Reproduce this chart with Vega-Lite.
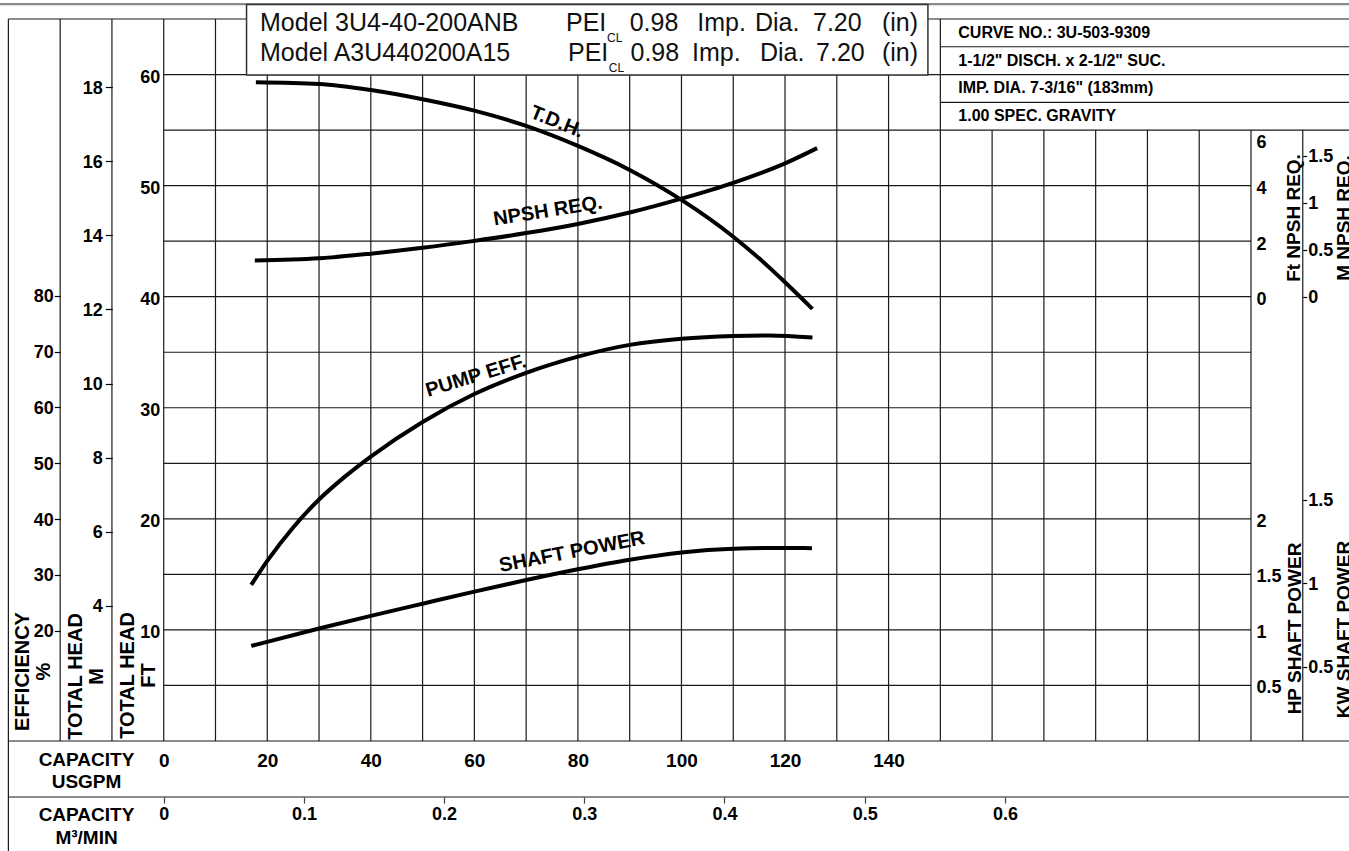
{
  "$schema": "https://vega.github.io/schema/vega-lite/v6.json",
  "width": 1349,
  "height": 741,
  "autosize": {"type": "none"},
  "padding": {"left": 0, "top": 0, "right": 0, "bottom": 110},
  "background": "white",
  "config": {
    "view": {"stroke": null},
    "font": "Liberation Sans",
    "axis": {"labelFont": "Liberation Sans", "titleFont": "Liberation Sans", "labelColor": "#000", "titleColor": "#000", "grid": false, "labelFlush": false, "labelOverlap": false, "labelBound": false, "labelFontWeight": "bold", "titleFontWeight": "bold"}
  },
  "resolve": {"scale": {"x": "independent", "y": "independent"}},
  "layer": [
    {
      "data": {"values": [
        {"gpm": -30, "ft1": -9.9, "ft2": 65}, {"gpm": -20, "ft1": 0, "ft2": 65}, {"gpm": -10, "ft1": 0, "ft2": 65},
        {"gpm": 0, "ft1": 0, "ft2": 65}, {"gpm": 10, "ft1": 0, "ft2": 65}, {"gpm": 20, "ft1": 0, "ft2": 65}, {"gpm": 30, "ft1": 0, "ft2": 65},
        {"gpm": 40, "ft1": 0, "ft2": 65}, {"gpm": 50, "ft1": 0, "ft2": 65}, {"gpm": 60, "ft1": 0, "ft2": 65}, {"gpm": 70, "ft1": 0, "ft2": 65},
        {"gpm": 80, "ft1": 0, "ft2": 65}, {"gpm": 90, "ft1": 0, "ft2": 65}, {"gpm": 100, "ft1": 0, "ft2": 65}, {"gpm": 110, "ft1": 0, "ft2": 65},
        {"gpm": 120, "ft1": 0, "ft2": 65}, {"gpm": 130, "ft1": 0, "ft2": 65}, {"gpm": 140, "ft1": 0, "ft2": 65}, {"gpm": 150, "ft1": 0, "ft2": 65},
        {"gpm": 160, "ft1": 0, "ft2": 55}, {"gpm": 170, "ft1": 0, "ft2": 55}, {"gpm": 180, "ft1": 0, "ft2": 55}, {"gpm": 190, "ft1": 0, "ft2": 55},
        {"gpm": 200, "ft1": 0, "ft2": 55}, {"gpm": 210, "ft1": 0, "ft2": 55}, {"gpm": 220, "ft1": 0, "ft2": 55}
      ]},
      "mark": {"type": "rule", "color": "#1a1a1a", "strokeWidth": 1.2},
      "encoding": {
        "x": {"field": "gpm", "type": "quantitative", "scale": {"domain": [-31.62, 228.93], "nice": false, "zero": false}, "axis": null},
        "y": {"field": "ft1", "type": "quantitative", "scale": {"domain": [0, 66.71], "nice": false, "zero": false}, "axis": null},
        "y2": {"field": "ft2"}
      }
    },
    {
      "data": {"values": [
        {"ft": 65, "gpm1": -30, "gpm2": 228.93}, {"ft": 60, "gpm1": 0, "gpm2": 228.93}, {"ft": 55, "gpm1": 0, "gpm2": 228.93},
        {"ft": 50, "gpm1": 0, "gpm2": 210}, {"ft": 45, "gpm1": 0, "gpm2": 210}, {"ft": 40, "gpm1": 0, "gpm2": 210}, {"ft": 35, "gpm1": 0, "gpm2": 210},
        {"ft": 30, "gpm1": 0, "gpm2": 210}, {"ft": 25, "gpm1": 0, "gpm2": 210}, {"ft": 20, "gpm1": 0, "gpm2": 210}, {"ft": 15, "gpm1": 0, "gpm2": 210},
        {"ft": 10, "gpm1": 0, "gpm2": 210}, {"ft": 5, "gpm1": 0, "gpm2": 210}, {"ft": 0, "gpm1": -30, "gpm2": 228.93},
        {"ft": 62.5, "gpm1": 150, "gpm2": 228.93}, {"ft": 57.5, "gpm1": 150, "gpm2": 228.93}, {"ft": -5.04, "gpm1": -30, "gpm2": 228.93}
      ]},
      "mark": {"type": "rule", "color": "#1a1a1a", "strokeWidth": 1.2},
      "encoding": {
        "y": {"field": "ft", "type": "quantitative", "scale": {"domain": [0, 66.71], "nice": false, "zero": false}, "axis": null},
        "x": {"field": "gpm1", "type": "quantitative", "scale": {"domain": [-31.62, 228.93], "nice": false, "zero": false}, "axis": null},
        "x2": {"field": "gpm2"}
      }
    },
    {
      "data": {"values": [{"ft": 66.34, "gpm1": -31.62, "gpm2": 228.93}]},
      "mark": {"type": "rule", "color": "#8a8a8a", "strokeWidth": 2.2},
      "encoding": {
        "y": {"field": "ft", "type": "quantitative", "scale": {"domain": [0, 66.71], "nice": false, "zero": false}, "axis": null},
        "x": {"field": "gpm1", "type": "quantitative", "scale": {"domain": [-31.62, 228.93], "nice": false, "zero": false}, "axis": null},
        "x2": {"field": "gpm2"}
      }
    },
    {
      "data": {"values": [{"gpm1": 16.0, "gpm2": 147.6, "ft1": 59.96, "ft2": 66.3}]},
      "mark": {"type": "rect", "fill": "white", "stroke": "#333", "strokeWidth": 1.5},
      "encoding": {
        "x": {"field": "gpm1", "type": "quantitative", "scale": {"domain": [-31.62, 228.93], "nice": false, "zero": false}, "axis": null},
        "x2": {"field": "gpm2"},
        "y": {"field": "ft1", "type": "quantitative", "scale": {"domain": [0, 66.71], "nice": false, "zero": false}, "axis": null},
        "y2": {"field": "ft2"}
      }
    },
    {
      "data": {"values": [
        {"text": "Model 3U4-40-200ANB", "gpm": 18.6, "ft": 64.61},
        {"text": "PEI", "gpm": 77.7, "ft": 64.61},
        {"text": "0.98", "gpm": 90.0, "ft": 64.61},
        {"text": "Imp.", "gpm": 103.06, "ft": 64.61},
        {"text": "Dia.", "gpm": 114.2, "ft": 64.61},
        {"text": "7.20", "gpm": 125.4, "ft": 64.61},
        {"text": "(in)", "gpm": 138.73, "ft": 64.61},
        {"text": "Model A3U440200A15", "gpm": 18.6, "ft": 61.9},
        {"text": "PEI", "gpm": 78.09, "ft": 61.9},
        {"text": "0.98", "gpm": 90.16, "ft": 61.9},
        {"text": "Imp.", "gpm": 102.03, "ft": 61.9},
        {"text": "Dia.", "gpm": 115.17, "ft": 61.9},
        {"text": "7.20", "gpm": 126.0, "ft": 61.9},
        {"text": "(in)", "gpm": 138.73, "ft": 61.9}
      ]},
      "mark": {"type": "text", "align": "left", "baseline": "middle", "fontSize": 25, "font": "Liberation Sans", "color": "#111"},
      "encoding": {
        "x": {"field": "gpm", "type": "quantitative", "scale": {"domain": [-31.62, 228.93], "nice": false, "zero": false}, "axis": null},
        "y": {"field": "ft", "type": "quantitative", "scale": {"domain": [0, 66.71], "nice": false, "zero": false}, "axis": null},
        "text": {"field": "text"}
      }
    },
    {
      "data": {"values": [
        {"text": "CL", "gpm": 85.62, "ft": 63.33},
        {"text": "CL", "gpm": 85.95, "ft": 60.63}
      ]},
      "mark": {"type": "text", "align": "left", "baseline": "middle", "fontSize": 12, "font": "Liberation Sans", "color": "#111"},
      "encoding": {
        "x": {"field": "gpm", "type": "quantitative", "scale": {"domain": [-31.62, 228.93], "nice": false, "zero": false}, "axis": null},
        "y": {"field": "ft", "type": "quantitative", "scale": {"domain": [0, 66.71], "nice": false, "zero": false}, "axis": null},
        "text": {"field": "text"}
      }
    },
    {
      "data": {"values": [
        {"text": "CURVE NO.: 3U-503-9309", "gpm": 153.47, "ft": 63.74},
        {"text": "1-1/2\" DISCH. x 2-1/2\" SUC.", "gpm": 153.47, "ft": 61.25},
        {"text": "IMP. DIA. 7-3/16\" (183mm)", "gpm": 153.47, "ft": 58.75},
        {"text": "1.00 SPEC. GRAVITY", "gpm": 153.47, "ft": 56.25}
      ]},
      "mark": {"type": "text", "align": "left", "baseline": "middle", "fontSize": 16, "fontWeight": "bold", "font": "Liberation Sans", "color": "#000"},
      "encoding": {
        "x": {"field": "gpm", "type": "quantitative", "scale": {"domain": [-31.62, 228.93], "nice": false, "zero": false}, "axis": null},
        "y": {"field": "ft", "type": "quantitative", "scale": {"domain": [0, 66.71], "nice": false, "zero": false}, "axis": null},
        "text": {"field": "text"}
      }
    },
    {
      "data": {"values": [{"text": "T.D.H.", "gpm": 75.96, "ft": 55.72}]},
      "mark": {"type": "text", "align": "center", "baseline": "middle", "fontSize": 20, "fontWeight": "bold", "angle": 22, "color": "#000"},
      "encoding": {
        "x": {"field": "gpm", "type": "quantitative", "scale": {"domain": [-31.62, 228.93], "nice": false, "zero": false}, "axis": null},
        "y": {"field": "ft", "type": "quantitative", "scale": {"domain": [0, 66.71], "nice": false, "zero": false}, "axis": null},
        "text": {"field": "text"}
      }
    },
    {
      "data": {"values": [{"text": "NPSH REQ.", "gpm": 74.22, "ft": 47.71}]},
      "mark": {"type": "text", "align": "center", "baseline": "middle", "fontSize": 20, "fontWeight": "bold", "angle": 351, "color": "#000"},
      "encoding": {
        "x": {"field": "gpm", "type": "quantitative", "scale": {"domain": [-31.62, 228.93], "nice": false, "zero": false}, "axis": null},
        "y": {"field": "ft", "type": "quantitative", "scale": {"domain": [0, 66.71], "nice": false, "zero": false}, "axis": null},
        "text": {"field": "text"}
      }
    },
    {
      "data": {"values": [{"text": "PUMP EFF.", "gpm": 60.32, "ft": 32.86}]},
      "mark": {"type": "text", "align": "center", "baseline": "middle", "fontSize": 20, "fontWeight": "bold", "angle": 343, "color": "#000"},
      "encoding": {
        "x": {"field": "gpm", "type": "quantitative", "scale": {"domain": [-31.62, 228.93], "nice": false, "zero": false}, "axis": null},
        "y": {"field": "ft", "type": "quantitative", "scale": {"domain": [0, 66.71], "nice": false, "zero": false}, "axis": null},
        "text": {"field": "text"}
      }
    },
    {
      "data": {"values": [{"text": "SHAFT POWER", "gpm": 78.86, "ft": 17.01}]},
      "mark": {"type": "text", "align": "center", "baseline": "middle", "fontSize": 20, "fontWeight": "bold", "angle": 349, "color": "#000"},
      "encoding": {
        "x": {"field": "gpm", "type": "quantitative", "scale": {"domain": [-31.62, 228.93], "nice": false, "zero": false}, "axis": null},
        "y": {"field": "ft", "type": "quantitative", "scale": {"domain": [0, 66.71], "nice": false, "zero": false}, "axis": null},
        "text": {"field": "text"}
      }
    },
    {
      "data": {"values": [
        {"gpm": 17.8, "ft": 59.3}, {"gpm": 30, "ft": 59.15}, {"gpm": 40, "ft": 58.61},
        {"gpm": 50, "ft": 57.78}, {"gpm": 60, "ft": 56.75}, {"gpm": 70, "ft": 55.37}, {"gpm": 80, "ft": 53.57},
        {"gpm": 90, "ft": 51.41}, {"gpm": 100, "ft": 48.71}, {"gpm": 110, "ft": 45.4}, {"gpm": 115, "ft": 43.45}, {"gpm": 120, "ft": 41.3}, {"gpm": 125.3, "ft": 38.9}
      ]},
      "mark": {"type": "line", "color": "#000", "strokeWidth": 4, "interpolate": "monotone", "strokeCap": "butt"},
      "encoding": {
        "x": {"field": "gpm", "type": "quantitative", "scale": {"domain": [-31.62, 228.93], "nice": false, "zero": false},
          "axis": {"orient": "bottom", "values": [0, 20, 40, 60, 80, 100, 120, 140], "ticks": false, "tickSize": 0, "domain": false, "labelPadding": 10, "labelFontSize": 19,
            "title": ["CAPACITY", "USGPM"], "titleX": 86, "titleY": 9.5, "titleAlign": "center", "titleBaseline": "top", "titleAngle": 0, "titleFontSize": 19, "titleLineHeight": 22}},
        "y": {"field": "ft", "type": "quantitative", "scale": {"domain": [0, 66.71], "nice": false, "zero": false},
          "axis": {"orient": "left", "offset": -163.7, "values": [10, 20, 30, 40, 50, 60], "ticks": false, "tickSize": 0, "domain": false, "labelPadding": 4, "labelFontSize": 18, "labelOffset": 3,
            "title": ["TOTAL HEAD", "FT"], "titleAngle": 270, "titleX": -36.2, "titleY": 675, "titleAlign": "center", "titleBaseline": "middle", "titleFontSize": 20, "titleLineHeight": 21}}
      }
    },
    {
      "data": {"values": [
        {"gpm": 17.6, "npsh": 1.3}, {"gpm": 30, "npsh": 1.38}, {"gpm": 40, "npsh": 1.55},
        {"gpm": 50, "npsh": 1.76}, {"gpm": 60, "npsh": 2.01}, {"gpm": 70, "npsh": 2.29}, {"gpm": 80, "npsh": 2.62},
        {"gpm": 90, "npsh": 3.03}, {"gpm": 100, "npsh": 3.53}, {"gpm": 110, "npsh": 4.1}, {"gpm": 120, "npsh": 4.8}, {"gpm": 126.2, "npsh": 5.35}
      ]},
      "mark": {"type": "line", "color": "#000", "strokeWidth": 4, "interpolate": "monotone", "strokeCap": "butt"},
      "encoding": {
        "x": {"field": "gpm", "type": "quantitative", "scale": {"domain": [-31.62, 228.93], "nice": false, "zero": false}, "axis": null},
        "y": {"field": "npsh", "type": "quantitative", "scale": {"domain": [-16, 10.684], "nice": false, "zero": false},
          "axis": {"orient": "right", "offset": -98, "values": [0, 2, 4, 6], "ticks": false, "tickSize": 0, "domain": false, "labelPadding": 5, "labelFontSize": 18,
            "labelOffset": {"condition": {"test": "datum.value === 6", "value": 12}, "value": 3},
            "title": "Ft NPSH REQ.", "titleAngle": 270, "titleX": 42.5, "titleY": 217.5, "titleAlign": "center", "titleBaseline": "middle", "titleFontSize": 19}}
      }
    },
    {
      "data": {"values": [
        {"gpm": 16.9, "eff": 28.2}, {"gpm": 20, "eff": 32.5}, {"gpm": 25, "eff": 38.5}, {"gpm": 30, "eff": 43.5}, {"gpm": 35, "eff": 47.6},
        {"gpm": 40, "eff": 51.2}, {"gpm": 50, "eff": 57.4}, {"gpm": 60, "eff": 62.4}, {"gpm": 70, "eff": 66.2}, {"gpm": 80, "eff": 69.1},
        {"gpm": 90, "eff": 71.2}, {"gpm": 100, "eff": 72.3}, {"gpm": 110, "eff": 72.8}, {"gpm": 117, "eff": 72.9}, {"gpm": 125.3, "eff": 72.5}
      ]},
      "mark": {"type": "line", "color": "#000", "strokeWidth": 4, "interpolate": "monotone", "strokeCap": "butt"},
      "encoding": {
        "x": {"field": "gpm", "type": "quantitative", "scale": {"domain": [-31.62, 228.93], "nice": false, "zero": false}, "axis": null},
        "y": {"field": "eff", "type": "quantitative", "scale": {"domain": [0.25, 132.97], "nice": false, "zero": false},
          "axis": {"orient": "left", "offset": -60.3, "values": [20, 30, 40, 50, 60, 70, 80], "ticks": true, "tickSize": 6, "tickWidth": 1.2, "tickColor": "#000", "domain": false, "labelPadding": 1, "labelFontSize": 18, "labelOffset": 1,
            "title": ["EFFICIENCY", "%"], "titleAngle": 270, "titleX": -37.5, "titleY": 671, "titleAlign": "center", "titleBaseline": "middle", "titleFontSize": 20, "titleLineHeight": 21}}
      }
    },
    {
      "data": {"values": [
        {"gpm": 16.9, "hp": 0.856}, {"gpm": 30, "hp": 1.013}, {"gpm": 40, "hp": 1.126},
        {"gpm": 50, "hp": 1.236}, {"gpm": 60, "hp": 1.345}, {"gpm": 70, "hp": 1.449}, {"gpm": 80, "hp": 1.546},
        {"gpm": 90, "hp": 1.632}, {"gpm": 100, "hp": 1.697}, {"gpm": 110, "hp": 1.73}, {"gpm": 120, "hp": 1.738}, {"gpm": 125.2, "hp": 1.736}
      ]},
      "mark": {"type": "line", "color": "#000", "strokeWidth": 4, "interpolate": "monotone", "strokeCap": "butt"},
      "encoding": {
        "x": {"field": "gpm", "type": "quantitative", "scale": {"domain": [-31.62, 228.93], "nice": false, "zero": false}, "axis": null},
        "y": {"field": "hp", "type": "quantitative", "scale": {"domain": [0, 6.671], "nice": false, "zero": false},
          "axis": {"orient": "right", "offset": -98, "values": [0.5, 1, 1.5, 2], "format": ".2~g", "ticks": false, "tickSize": 0, "domain": false, "labelPadding": 5, "labelFontSize": 18, "labelOffset": 2.5,
            "title": "HP SHAFT POWER", "titleAngle": 270, "titleX": 43.5, "titleY": 628, "titleAlign": "center", "titleBaseline": "middle", "titleFontSize": 19}}
      }
    },
    {
      "data": {"values": [{"m": 4}, {"m": 6}, {"m": 8}, {"m": 10}, {"m": 12}, {"m": 14}, {"m": 16}, {"m": 18}]},
      "mark": {"type": "point", "opacity": 0},
      "encoding": {
        "y": {"field": "m", "type": "quantitative", "scale": {"domain": [0.346, 20.357], "nice": false, "zero": false},
          "axis": {"orient": "left", "offset": -112.3, "values": [4, 6, 8, 10, 12, 14, 16, 18], "ticks": true, "tickSize": 7, "tickWidth": 1.2, "tickColor": "#000", "domain": false, "labelPadding": 3, "labelFontSize": 18, "labelOffset": 1,
            "title": ["TOTAL HEAD", "M"], "titleAngle": 270, "titleX": -36.8, "titleY": 676, "titleAlign": "center", "titleBaseline": "middle", "titleFontSize": 20, "titleLineHeight": 21}}
      }
    },
    {
      "data": {"values": [{"mnpsh": 0}, {"mnpsh": 0.5}, {"mnpsh": 1}, {"mnpsh": 1.5}]},
      "mark": {"type": "point", "opacity": 0},
      "encoding": {
        "y": {"field": "mnpsh", "type": "quantitative", "scale": {"domain": [-4.727, 3.156], "nice": false, "zero": false},
          "axis": {"orient": "right", "offset": -46.3, "values": [0, 0.5, 1, 1.5], "format": ".2~g", "ticks": true, "tickSize": 4, "tickWidth": 1.2, "tickColor": "#000", "domain": false, "labelPadding": 1, "labelFontSize": 18, "labelOffset": 1,
            "title": "M NPSH REQ.", "titleAngle": 270, "titleX": 41, "titleY": 217.5, "titleAlign": "center", "titleBaseline": "middle", "titleFontSize": 19}}
      }
    },
    {
      "data": {"values": [{"kw": 0.5}, {"kw": 1}, {"kw": 1.5}]},
      "mark": {"type": "point", "opacity": 0},
      "encoding": {
        "y": {"field": "kw", "type": "quantitative", "scale": {"domain": [0.054, 4.499], "nice": false, "zero": false},
          "axis": {"orient": "right", "offset": -46.3, "values": [0.5, 1, 1.5], "format": ".2~g", "ticks": true, "tickSize": 4, "tickWidth": 1.2, "tickColor": "#000", "domain": false, "labelPadding": 1, "labelFontSize": 18, "labelOffset": 1,
            "title": "KW SHAFT POWER", "titleAngle": 270, "titleX": 41, "titleY": 629, "titleAlign": "center", "titleBaseline": "middle", "titleFontSize": 19}}
      }
    },
    {
      "data": {"values": [{"m3": 0}, {"m3": 0.1}, {"m3": 0.2}, {"m3": 0.3}, {"m3": 0.4}, {"m3": 0.5}, {"m3": 0.6}]},
      "mark": {"type": "point", "opacity": 0},
      "encoding": {
        "x": {"field": "m3", "type": "quantitative", "scale": {"domain": [-0.11676, 0.84544], "nice": false, "zero": false},
          "axis": {"orient": "bottom", "offset": 56.1, "values": [0, 0.1, 0.2, 0.3, 0.4, 0.5, 0.6], "format": ".1~f", "ticks": true, "tickSize": 6, "tickWidth": 1.2, "tickColor": "#444", "domain": false, "labelPadding": 2.5, "labelFontSize": 18,
            "title": ["CAPACITY", "M³/MIN"], "titleX": 86, "titleY": 8.5, "titleAlign": "center", "titleBaseline": "top", "titleAngle": 0, "titleFontSize": 19, "titleLineHeight": 23}}
      }
    }
  ]
}
